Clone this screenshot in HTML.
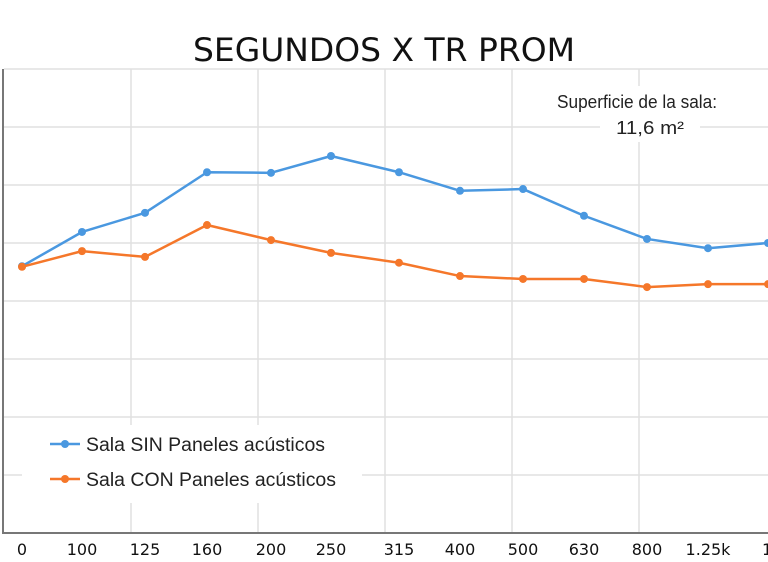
<!DOCTYPE html>
<html><head><meta charset="utf-8"><style>
html,body{margin:0;padding:0;background:#fff;}
svg{display:block;font-family:"DejaVu Sans","Liberation Sans",sans-serif;}
</style></head><body>
<svg id="chart" width="768" height="562" viewBox="0 0 768 562">
<text x="384" y="61" text-anchor="middle" font-size="32" textLength="382" lengthAdjust="spacingAndGlyphs" fill="#111">SEGUNDOS X TR PROM</text>
<g id="grid"></g>
<g id="series"></g>
<g id="xticks"></g>
<g>
<rect x="600" y="86" width="100" height="56" fill="#fff"/>
<text x="637" y="108" text-anchor="middle" font-size="18" textLength="160" lengthAdjust="spacingAndGlyphs" font-family="Liberation Sans, sans-serif" fill="#222">Superficie de la sala:</text>
<text x="650" y="134" text-anchor="middle" font-size="18" textLength="68" lengthAdjust="spacingAndGlyphs" font-family="Liberation Sans, sans-serif" fill="#222">11,6 m²</text>
</g>
<g>
<rect x="22" y="425" width="340" height="78" fill="#fff"/>
<g>
<line x1="50" y1="444" x2="80" y2="444" stroke="#4a98e0" stroke-width="2.5"/><circle cx="65" cy="444" r="4" fill="#4a98e0"/>
<text x="86" y="451" font-size="19" textLength="239" lengthAdjust="spacingAndGlyphs" font-family="Liberation Sans, sans-serif" fill="#222">Sala SIN Paneles acústicos</text></g>
<g>
<line x1="50" y1="479" x2="80" y2="479" stroke="#f5772a" stroke-width="2.5"/><circle cx="65" cy="479" r="4" fill="#f5772a"/>
<text x="86" y="486" font-size="19" textLength="250" lengthAdjust="spacingAndGlyphs" font-family="Liberation Sans, sans-serif" fill="#222">Sala CON Paneles acústicos</text></g>
</g>
</svg>
<script>
const categories = ["0","100","125","160","200","250","315","400","500","630","800","1.25k","1"];
const sinValues = [0.460,0.519,0.552,0.622,0.621,0.650,0.622,0.590,0.593,0.547,0.507,0.491,0.500];
const conValues = [0.459,0.486,0.476,0.531,0.505,0.483,0.466,0.443,0.438,0.438,0.424,0.429,0.429];
const yTicks = [0,0.1,0.2,0.3,0.4,0.5,0.6,0.7,0.8];

const NS="http://www.w3.org/2000/svg";
const y0=533, pxPerUnit=580;
const yScale=v=>y0-v*pxPerUnit;
const xPos=[22,82,145,207,271,331,399,460,523,584,647,708,768];
const xScale=i=>xPos[i];
function mk(tag,attrs,parent){const e=document.createElementNS(NS,tag);for(const k in attrs)e.setAttribute(k,attrs[k]);parent.appendChild(e);return e;}
const grid=document.getElementById('grid');
yTicks.forEach((t,i)=>{if(t===0)return;
 const l=mk('line',{x1:4,x2:768,y1:yScale(t),y2:yScale(t),stroke:'#e0e0e0','stroke-width':1.5},grid);
 
 
});
for(let k=1;k<=5;k++){const x=4+127*k;
 const l=mk('line',{x1:x,x2:x,y1:69,y2:533,stroke:'#e0e0e0','stroke-width':1.5},grid);
 
 
}
const ax=mk('line',{x1:3,x2:3,y1:69,y2:534,stroke:'#777','stroke-width':2},grid);


const xa=mk('line',{x1:3,x2:768,y1:533,y2:533,stroke:'#777','stroke-width':2},grid);


const xt=document.getElementById('xticks');
categories.forEach((c,i)=>{
 const t=mk('text',{x:xScale(i)-(i===12?6:0),y:555,'text-anchor':i===12?'start':'middle','font-size':16,fill:'#111'},xt);
 t.textContent=c;
 
 
});
const sg=document.getElementById('series');
function draw(vals,color,name){
 const g=mk('g',{},sg);
 
 
 const pts=vals.map((v,i)=>xScale(i)+','+yScale(v)).join(' ');
 const pl=mk('polyline',{points:pts,fill:'none',stroke:color,'stroke-width':2.5,'stroke-linejoin':'round'},g);
 
 
 vals.forEach((v,i)=>{
  const c=mk('circle',{cx:xScale(i),cy:yScale(v),r:4,fill:color},g);
  
  
 });
}
draw(sinValues,'#4a98e0','series-sin');
draw(conValues,'#f5772a','series-con');
</script>
</body></html>
